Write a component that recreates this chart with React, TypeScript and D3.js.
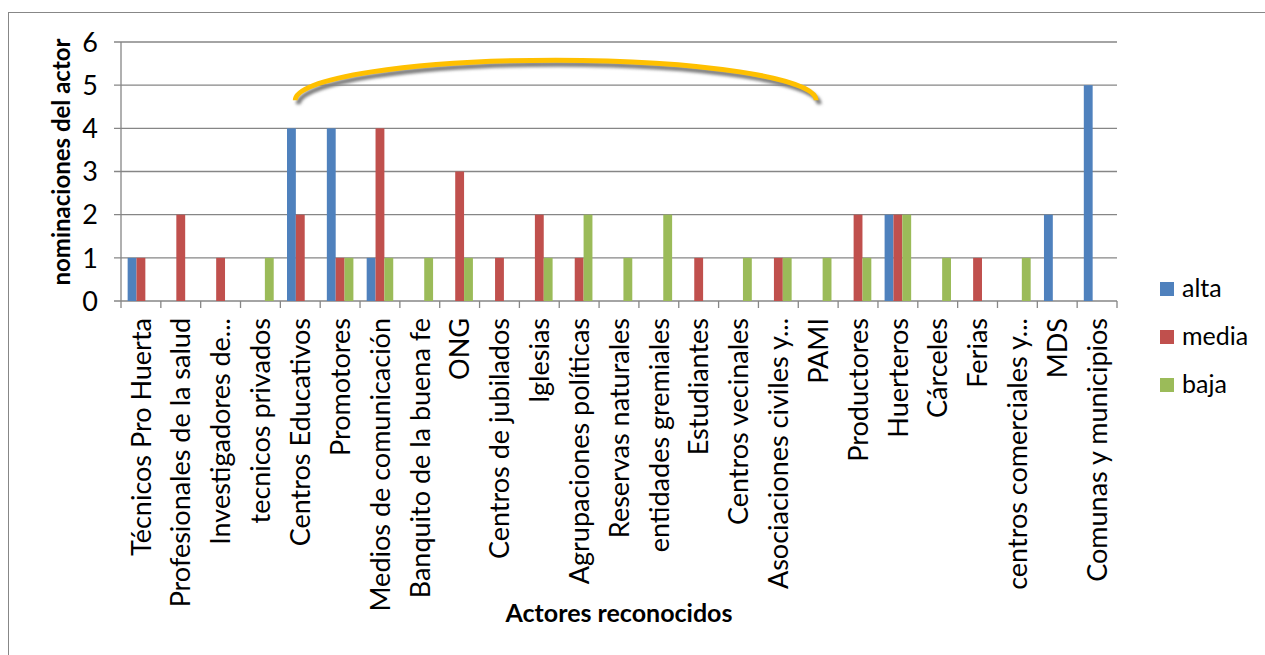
import * as d3 from "d3";

const categories = [
  "Técnicos Pro Huerta",
  "Profesionales de la salud",
  "Investigadores de...",
  "tecnicos privados",
  "Centros Educativos",
  "Promotores",
  "Medios de comunicación",
  "Banquito de la buena fe",
  "ONG",
  "Centros de jubilados",
  "Iglesias",
  "Agrupaciones políticas",
  "Reservas naturales",
  "entidades gremiales",
  "Estudiantes",
  "Centros vecinales",
  "Asociaciones civiles y...",
  "PAMI",
  "Productores",
  "Huerteros",
  "Cárceles",
  "Ferias",
  "centros comerciales y...",
  "MDS",
  "Comunas y municipios",
];

const alta = [1, 0, 0, 0, 4, 4, 1, 0, 0, 0, 0, 0, 0, 0, 0, 0, 0, 0, 0, 2, 0, 0, 0, 2, 5];
const media = [1, 2, 1, 0, 2, 1, 4, 0, 3, 1, 2, 1, 0, 0, 1, 0, 1, 0, 2, 2, 0, 1, 0, 0, 0];
const baja = [0, 0, 0, 1, 0, 1, 1, 1, 1, 0, 1, 2, 1, 2, 0, 1, 1, 1, 1, 2, 1, 0, 1, 0, 0];

const seriesNames = ["alta", "media", "baja"];
const seriesValues = [alta, media, baja];
const colors = ["#4F81BD", "#C0504D", "#9BBB59"];
const yTicks = [0, 1, 2, 3, 4, 5, 6];

const font = "Lato, 'Open Sans', sans-serif";

const App = () => {
  const width = 1265,
    height = 655,
    plotLeft = 121,
    plotRight = 1117,
    plotTop = 42,
    plotBottom = 301;

  const x = d3.scaleBand(categories, [plotLeft, plotRight]);
  const bw = x.bandwidth();
  const barW = bw / 4.5;
  const y = d3.scaleLinear([0, 6], [plotBottom, plotTop]);

  // arc annotation over Centros Educativos .. PAMI
  const ax0 = x("Centros Educativos")! + bw / 2 - 5;
  const ax1 = x("PAMI")! + bw / 2 - 2;
  const ay = y(4.65);
  const ry = y(4.65) - y(5.58);
  const arcPath = `M${ax0},${ay} A${(ax1 - ax0) / 2},${ry} 0 0 1 ${ax1},${ay}`;

  return (
    <svg
      width={width}
      height={height}
      style={{ position: "absolute", left: 0, top: 0, background: "#fff" }}
      fontFamily={font}
    >
      <defs>
        <filter id="shadow" x="-10%" y="-50%" width="120%" height="200%">
          <feGaussianBlur stdDeviation="1.6" />
        </filter>
      </defs>
      <rect x={8.5} y={12.5} width={1270} height={660} fill="#fff" stroke="#878787" />

      {/* gridlines */}
      <g stroke="#868686" strokeWidth={1.3}>
        {yTicks.map((t) => (
          <line key={t} x1={plotLeft - 7} x2={plotRight} y1={y(t)} y2={y(t)} />
        ))}
        <line x1={plotLeft} x2={plotLeft} y1={plotTop} y2={plotBottom} />
        {d3.range(categories.length + 1).map((i) => (
          <line
            key={i}
            x1={plotLeft + i * bw}
            x2={plotLeft + i * bw}
            y1={plotBottom}
            y2={plotBottom + 7}
          />
        ))}
      </g>

      {/* bars */}
      {seriesValues.map((vals, s) => (
        <g key={s} fill={colors[s]}>
          {vals.map((v, i) =>
            v > 0 ? (
              <rect
                key={i}
                x={x(categories[i])! + barW * 0.75 + s * barW}
                y={y(v)}
                width={barW}
                height={y(0) - y(v)}
              />
            ) : null,
          )}
        </g>
      ))}

      {/* y tick labels */}
      <g fontSize={27} textAnchor="end" fill="#000">
        {yTicks.map((t) => (
          <text key={t} x={98} y={y(t)} dy="0.36em">
            {t}
          </text>
        ))}
      </g>

      {/* category labels */}
      <g fontSize={27} textAnchor="end" fill="#000">
        {categories.map((c) => {
          const cx = x(c)! + bw / 2;
          return (
            <text key={c} transform={`translate(${cx},318) rotate(-90)`} dy="0.36em">
              {c}
            </text>
          );
        })}
      </g>

      {/* axis titles */}
      <text
        transform={`translate(61,162) rotate(-90)`}
        textAnchor="middle"
        dy="0.36em"
        fontSize={24}
        fontWeight="bold"
      >
        nominaciones del actor
      </text>
      <text x={619} y={622} textAnchor="middle" fontSize={25} fontWeight="bold">
        Actores reconocidos
      </text>

      {/* legend */}
      {seriesNames.map((n, i) => (
        <g key={n} transform={`translate(1160,${282 + i * 48})`}>
          <rect width={14} height={14} fill={colors[i]} />
          <text x={22} y={15} fontSize={25}>
            {n}
          </text>
        </g>
      ))}

      {/* arc annotation */}
      <path
        d={arcPath}
        transform="translate(3,4)"
        fill="none"
        stroke="#7f7f7f"
        strokeWidth={5}
        filter="url(#shadow)"
      />
      <path d={arcPath} fill="none" stroke="#FFC000" strokeWidth={5} />
    </svg>
  );
};

export default App;
